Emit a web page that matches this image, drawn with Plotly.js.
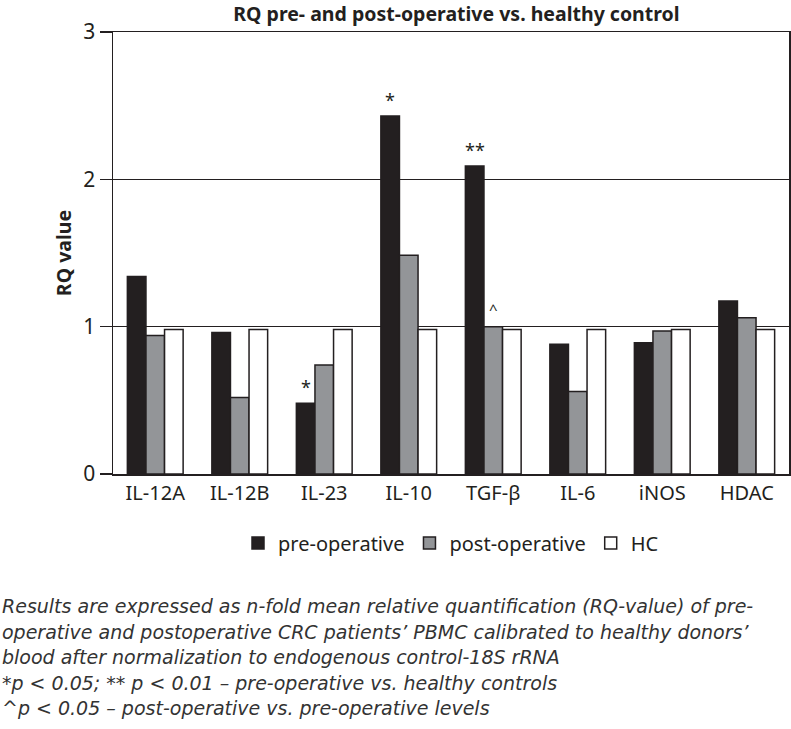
<!DOCTYPE html>
<html>
<head>
<meta charset="utf-8">
<script src="https://cdn.plot.ly/plotly-3.0.1.min.js"></script>
<style>html,body{margin:0;padding:0;background:#fff;}#chart{width:791px;height:729px;}</style>
</head>
<body>
<div id="chart"></div>
<script>
var categories = ["IL-12A", "IL-12B", "IL-23", "IL-10", "TGF-β", "IL-6", "iNOS", "HDAC"];
var preOperative = [1.34, 0.96, 0.48, 2.43, 2.09, 0.88, 0.89, 1.175];
var postOperative = [0.94, 0.52, 0.74, 1.485, 1.0, 0.56, 0.97, 1.06];
var healthyControl = [0.98, 0.98, 0.98, 0.98, 0.98, 0.98, 0.98, 0.98];
var seriesNames = ["pre-operative", "post-operative", "HC"];
var yTicks = [0, 1, 2, 3];
var sigMarks = [
  {cat: "IL-23", series: 0, text: "*"},
  {cat: "IL-10", series: 0, text: "*"},
  {cat: "TGF-β", series: 0, text: "**"},
  {cat: "TGF-β", series: 1, text: "^"}
];
var captionLines = [
  "Results are expressed as n-fold mean relative quantification (RQ-value) of pre-",
  "operative and postoperative CRC patients’ PBMC calibrated to healthy donors’",
  "blood after normalization to endogenous control-18S rRNA",
  "*p < 0.05; ** p < 0.01 – pre-operative vs. healthy controls",
  "^p < 0.05 – post-operative vs. pre-operative levels"
];

var FONT = "Noto Sans, Open Sans, sans-serif";
var CAPFONT = "DejaVu Sans, sans-serif";
var INK = "#231f20";
var colors = [INK, "#939598", "#ffffff"];
var series = [preOperative, postOperative, healthyControl];

var traces = series.map(function (vals, i) {
  return {
    type: "bar",
    name: seriesNames[i],
    x: categories,
    y: vals,
    marker: {color: colors[i], line: {color: INK, width: 1.5}},
    hoverinfo: "skip"
  };
});

var annotations = sigMarks.map(function (m) {
  var ci = categories.indexOf(m.cat);
  var val = series[m.series][ci];
  var off = (m.series - 1) * 0.22;
  return {
    x: ci + off, y: val, xref: "x", yref: "y",
    text: m.text, showarrow: false, yanchor: "bottom", yshift: m.text === "^" ? 6 : 2,
    font: {family: FONT, size: m.text === "^" ? 15 : 18, color: INK}
  };
});

captionLines.forEach(function (line, i) {
  annotations.push({
    xref: "paper", yref: "paper",
    x: -113 / 676, xanchor: "left",
    y: (474 - (606 + i * 25.5)) / 442, yanchor: "middle",
    text: "<i>" + line + "</i>", showarrow: false, align: "left",
    font: {family: CAPFONT, size: 19, color: "#333333"}
  });
});

var layout = {
  width: 791, height: 729,
  margin: {l: 113, r: 2, t: 32, b: 255, pad: 0},
  paper_bgcolor: "#fff", plot_bgcolor: "#fff",
  font: {family: FONT, color: INK},
  title: {text: "<b>RQ pre- and post-operative vs. healthy control</b>", x: 0.577, xanchor: "center", y: 0.981, yanchor: "middle",
          font: {family: FONT, size: 19.5, color: INK}},
  barmode: "group", bargap: 0.34, bargroupgap: 0,
  showlegend: true,
  legend: {orientation: "h", x: 0.5, xanchor: "center", y: -0.156, yanchor: "middle",
           font: {family: FONT, size: 20, color: INK}, itemwidth: 24, traceorder: "normal"},
  xaxis: {
    type: "category", showline: true, linecolor: INK, linewidth: 1.5, mirror: true,
    ticks: "", showgrid: false, zeroline: false,
    tickfont: {family: FONT, size: 20, color: INK}
  },
  yaxis: {
    range: [0, 3], tickvals: yTicks, ticktext: yTicks.map(String),
    showline: true, linecolor: INK, linewidth: 1.5, mirror: true,
    ticks: "outside", ticklen: 12, tickwidth: 1.5, tickcolor: INK,
    showgrid: true, gridcolor: INK, gridwidth: 1.5, zeroline: false,
    tickfont: {family: FONT, size: 21, color: INK},
    title: {text: "<b>RQ value</b>", font: {family: FONT, size: 19.5, color: INK}, standoff: 6}
  },
  annotations: annotations
};

Plotly.newPlot("chart", traces, layout, {displayModeBar: false, staticPlot: true});
</script>
</body>
</html>
